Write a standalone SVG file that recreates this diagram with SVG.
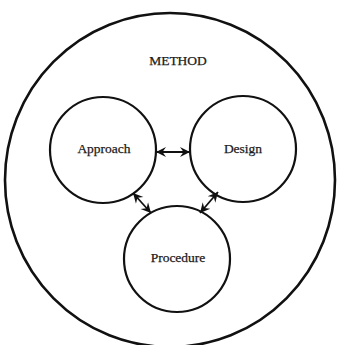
<svg xmlns="http://www.w3.org/2000/svg" width="338" height="345" viewBox="0 0 338 345">
  <style>
    .ring { fill: none; stroke: #111; stroke-width: 2.2; }
    .outer { fill: none; stroke: #111; stroke-width: 2.6; }
    .label { font-family: "Liberation Serif", "Times New Roman", serif; font-size: 13.5px; fill: #1a1a1a; stroke: #1a1a1a; stroke-width: 0.25; text-anchor: middle; }
    .link { stroke: #111; stroke-width: 1.8; fill: none; marker-start: url(#barb); marker-end: url(#barb); }
  </style>
  <defs>
    <marker id="barb" viewBox="0 0 10 10" refX="10" refY="5" markerUnits="userSpaceOnUse" markerWidth="10" markerHeight="12" orient="auto-start-reverse">
      <path d="M10,5 L0,0 L3.5,5 L0,10 Z" fill="#111"/>
    </marker>
  </defs>
  <rect width="338" height="345" fill="#fff"/>

  <g id="method">
    <ellipse class="outer" cx="170" cy="180" rx="165" ry="167"/>
    <text class="label" x="178" y="65">METHOD</text>
  </g>

  <g id="approach">
    <circle class="ring" cx="103" cy="150" r="53"/>
    <text class="label" x="104" y="153">Approach</text>
  </g>

  <g id="design">
    <circle class="ring" cx="243" cy="149" r="53"/>
    <text class="label" x="243" y="153">Design</text>
  </g>

  <g id="procedure">
    <circle class="ring" cx="177" cy="259" r="53"/>
    <text class="label" x="178" y="262">Procedure</text>
  </g>

  <g id="connectors">
    <line class="link" x1="156" y1="152" x2="190" y2="152"/>
    <line class="link" x1="133" y1="193" x2="151" y2="213"/>
    <line class="link" x1="218" y1="192" x2="200" y2="213"/>
  </g>
</svg>
